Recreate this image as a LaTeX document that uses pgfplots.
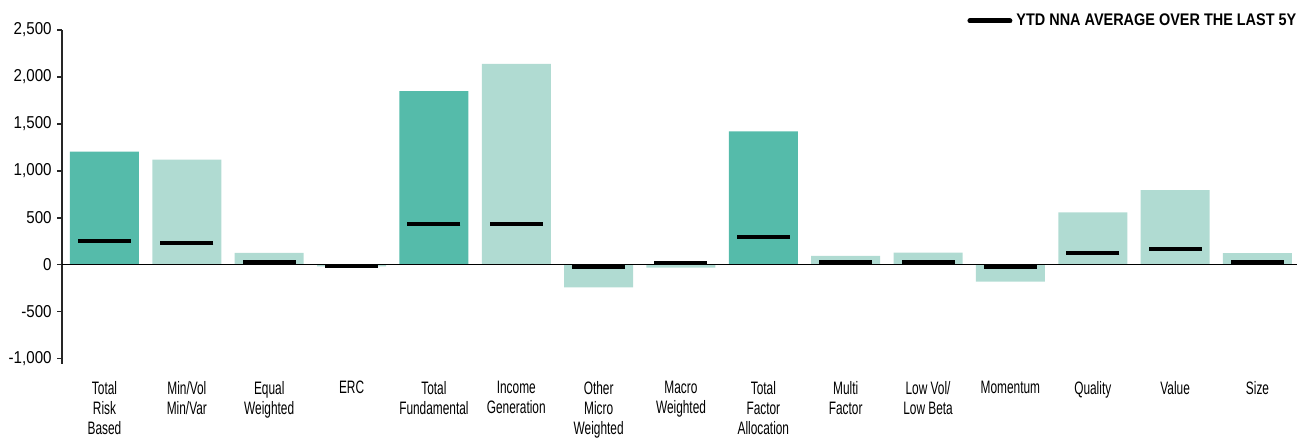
\documentclass[border=0pt]{standalone}
\usepackage{pgfplots}
\pgfplotsset{compat=1.18}
\usepackage{fontspec}
\setmainfont{Liberation Sans}
\newfontfamily\condfont{Liberation Sans}[FakeStretch=0.66]
\newfontfamily\tickfont{Liberation Sans}[FakeStretch=0.88]
\newfontfamily\legfont{Liberation Sans}[FakeStretch=0.86]
\definecolor{darkteal}{HTML}{55BBAA}
\definecolor{lightteal}{HTML}{B0DBD2}
\begin{document}
\begin{tikzpicture}
\begin{axis}[
  scale only axis,
  width=617.5pt, height=167pt,
  xmin=-0.516, xmax=14.48,
  ymin=-1055, ymax=2500,
  axis y line*=left,
  axis x line*=bottom,
  x axis line style={draw=none},
  ytick={-1000,-500,0,500,1000,1500,2000,2500},
  scaled y ticks=false,
  /pgf/number format/assume math mode=true,
  /pgf/number format/1000 sep={,},
  y axis line style={line width=0.6pt, black!85},
  ytick style={line width=0.6pt, black!85},
  tick align=outside,
  major tick length=2.5pt,
  yticklabel style={font=\fontsize{8.6}{10}\tickfont, inner sep=0pt, xshift=-2.5pt},
  xtick={0,...,14},
  major x tick style={draw=none},
  xticklabels={Total\\Risk\\Based, Min/Vol\\Min/Var, Equal\\Weighted, ERC, Total\\Fundamental, Income\\Generation, Other\\Micro\\Weighted, Macro\\Weighted, Total\\Factor\\Allocation, Multi\\Factor, Low Vol/\\Low Beta, Momentum, Quality, Value, Size},
  xticklabel style={font=\fontsize{9}{10.2}\condfont, align=center, anchor=north, inner sep=0pt, yshift=-5.8pt},
  legend style={at={(1.003,1.027)}, anchor=east, draw=none, fill=none, inner sep=0pt,
    font=\fontsize{8.4}{9}\legfont\bfseries, legend cell align=left},
  legend image code/.code={\draw[line width=2.5pt, line cap=round] (0pt,0pt) -- (20pt,0pt);},
  clip=false,
]
\addplot[ybar, bar width=34.5pt, bar shift=0pt, fill=darkteal, draw=none, forget plot]
  coordinates {(0,1205) (4,1850) (8,1420)};
\addplot[ybar, bar width=34.5pt, bar shift=0pt, fill=lightteal, draw=none, forget plot]
  coordinates {(1,1120) (2,127) (3,-15) (5,2140) (6,-240) (7,-30) (9,95) (10,130) (11,-178) (12,560) (13,795) (14,125)};
\draw[black, line width=0.6pt] (axis cs:-0.516,0) -- (axis cs:14.48,0);
\addplot[only marks, mark=-, mark size=13.25pt, mark options={line width=2pt, black}, black]
  coordinates {(0,254) (1,230) (2,32) (3,-12) (4,435) (5,435) (6,-22) (7,18) (8,293) (9,32) (10,32) (11,-26) (12,130) (13,172) (14,32)};
\addlegendentry{YTD NNA AVERAGE OVER THE LAST 5Y}
\coordinate (o) at (rel axis cs:0,0);
\end{axis}
\pgfresetboundingbox
\path (o) ++(-31pt,-37pt) rectangle ++(654.5pt,219pt);
\end{tikzpicture}
\end{document}
